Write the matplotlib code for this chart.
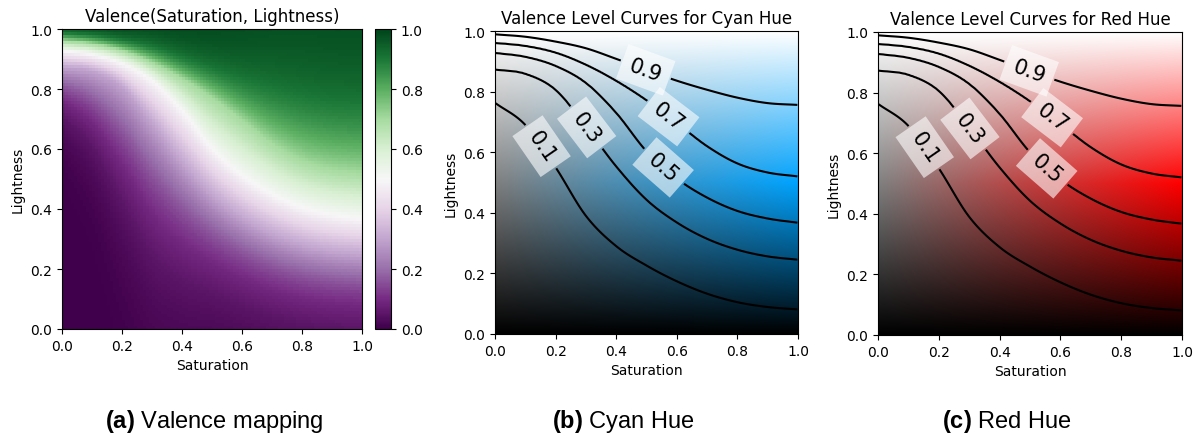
import numpy as np
import matplotlib
matplotlib.use("Agg")
import matplotlib.pyplot as plt
import colorsys

plt.rcParams["mathtext.fontset"] = "custom"
plt.rcParams["mathtext.rm"] = "Liberation Sans"
plt.rcParams["mathtext.bf"] = "Liberation Sans:bold"

# Saturation samples where the level curves were measured
sat_knots = [0.0, 0.1, 0.2, 0.3, 0.4, 0.5, 0.6, 0.7, 0.8, 0.9, 1.0]

# Lightness at which valence reaches each level, per saturation sample
light_v01 = [0.763, 0.690, 0.550, 0.390, 0.290, 0.226, 0.174, 0.133, 0.105, 0.089, 0.081]
light_v03 = [0.873, 0.859, 0.806, 0.685, 0.553, 0.443, 0.368, 0.314, 0.278, 0.256, 0.245]
light_v05 = [0.928, 0.915, 0.885, 0.829, 0.730, 0.603, 0.513, 0.450, 0.406, 0.381, 0.367]
light_v07 = [0.961, 0.951, 0.929, 0.889, 0.836, 0.772, 0.697, 0.620, 0.563, 0.533, 0.520]
light_v09 = [0.989, 0.981, 0.965, 0.943, 0.908, 0.871, 0.836, 0.806, 0.780, 0.762, 0.756]

levels = [0.1, 0.3, 0.5, 0.7, 0.9]
level_curves = [light_v01, light_v03, light_v05, light_v07, light_v09]

# label anchor points (saturation, lightness)
label_pos = [(0.154, 0.62), (0.30, 0.68), (0.555, 0.55), (0.575, 0.72), (0.50, 0.879)]

hue_cyan = 0.56
hue_red = 0.0


def smooth_interp(x, xk, yk):
    # cubic Hermite through the knots (Catmull-Rom slopes)
    xk = np.asarray(xk)
    yk = np.asarray(yk)
    m = np.gradient(yk, xk)
    i = np.clip(np.searchsorted(xk, x) - 1, 0, len(xk) - 2)
    h = xk[i + 1] - xk[i]
    t = (x - xk[i]) / h
    h00 = 2 * t**3 - 3 * t**2 + 1
    h10 = t**3 - 2 * t**2 + t
    h01 = -2 * t**3 + 3 * t**2
    h11 = t**3 - t**2
    return h00 * yk[i] + h10 * h * m[i] + h01 * yk[i + 1] + h11 * h * m[i + 1]


def valence_grid(n):
    # valence between level curves, interpolated in logit space along lightness
    sat = (np.arange(n) + 0.5) / n
    light = (np.arange(n) + 0.5) / n
    logit_lv = np.log(np.array(levels) / (1 - np.array(levels)))
    v = np.zeros((n, n))
    for j, s in enumerate(sat):
        thr = np.array([smooth_interp(s, sat_knots, c) for c in level_curves])
        z = np.interp(light, thr, logit_lv)
        lo = light < thr[0]
        hi = light > thr[-1]
        z[lo] = logit_lv[0] + (light[lo] - thr[0]) * (logit_lv[1] - logit_lv[0]) / (thr[1] - thr[0])
        z[hi] = logit_lv[-1] + (light[hi] - thr[-1]) * (logit_lv[-1] - logit_lv[-2]) / (thr[-1] - thr[-2])
        v[:, j] = 1 / (1 + np.exp(-z))
    return sat, light, v


def hls_image(hue, size=300):
    s = np.linspace(0, 1, size)
    l = np.linspace(0, 1, size)
    img = np.zeros((size, size, 3))
    for i, li in enumerate(l):
        for j, sj in enumerate(s):
            img[i, j] = colorsys.hls_to_rgb(hue, li, sj)
    return img


fig = plt.figure(figsize=(12.03, 4.39), dpi=100)
W, H = 1203, 439


def px_axes(left, top, right, bottom):
    return fig.add_axes([left / W, (H - bottom) / H, (right - left) / W, (bottom - top) / H])


# (a) valence heatmap
_, _, val_coarse = valence_grid(100)
ax_a = px_axes(62, 30, 362, 330)
im = ax_a.imshow(val_coarse, origin="lower", extent=[0, 1, 0, 1], cmap="PRGn",
                 vmin=0, vmax=1, aspect="auto", interpolation="nearest")
ax_a.set_title("Valence(Saturation, Lightness)", fontsize=12)
ax_a.set_xlabel("Saturation")
ax_a.set_ylabel("Lightness")
ax_a.set_xticks(np.arange(0, 1.01, 0.2))
ax_a.set_yticks(np.arange(0, 1.01, 0.2))
cax = px_axes(375, 30, 391, 330)
fig.colorbar(im, cax=cax, ticks=np.arange(0, 1.01, 0.2))

sat_f, light_f, val_fine = valence_grid(250)


def level_panel(ax, hue, title):
    ax.imshow(hls_image(hue), origin="lower", extent=[0, 1, 0, 1], aspect="auto",
              interpolation="bilinear")
    cs = ax.contour(sat_f, light_f, val_fine, levels=levels, colors="k", linewidths=1.5)
    labels = ax.clabel(cs, fmt="%.1f", fontsize=15, inline=True, manual=label_pos,
                       inline_spacing=10)
    for t in labels:
        t.set_bbox(dict(facecolor="white", alpha=0.6, edgecolor="none", pad=6))
    ax.set_xlim(0, 1)
    ax.set_ylim(0, 1)
    ax.set_title(title, fontsize=12)
    ax.set_xlabel("Saturation")
    ax.set_ylabel("Lightness")
    ax.set_xticks(np.arange(0, 1.01, 0.2))
    ax.set_yticks(np.arange(0, 1.01, 0.2))


level_panel(px_axes(495, 32, 798, 335), hue_cyan, "Valence Level Curves for Cyan Hue")
level_panel(px_axes(878, 33, 1182, 336), hue_red, "Valence Level Curves for Red Hue")

# sub-figure captions
captions = [(214, r"$\bf{(a)}$ Valence mapping"),
            (623, r"$\bf{(b)}$ Cyan Hue"),
            (1007, r"$\bf{(c)}$ Red Hue")]
for x, txt in captions:
    fig.text(x / W, (H - 422) / H, txt, ha="center", va="center", fontsize=17,
             family="Liberation Sans")

fig.savefig("out.png", dpi=100)
